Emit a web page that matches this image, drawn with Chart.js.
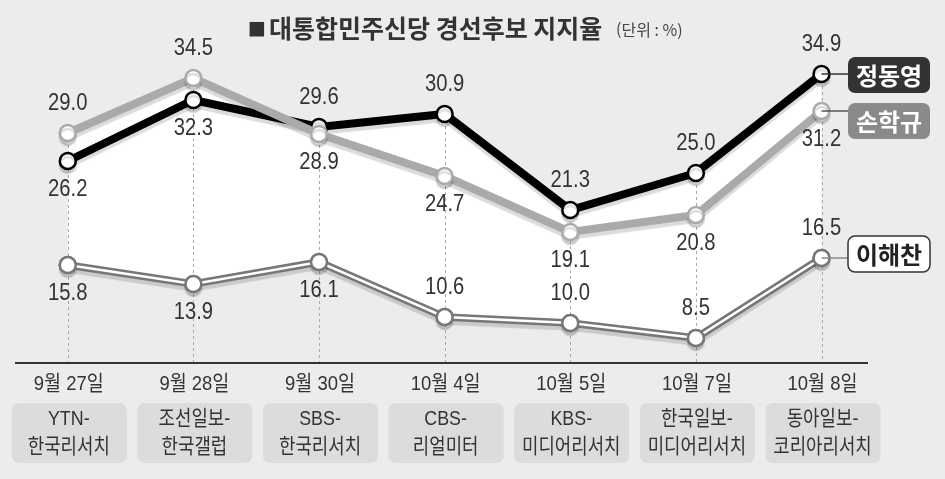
<!DOCTYPE html>
<html lang="ko">
<head>
<meta charset="utf-8">
<script src="https://cdn.jsdelivr.net/npm/chart.js@4.4.1/dist/chart.umd.min.js"></script>
<style>
  html, body { margin: 0; padding: 0; background: #ececee; }
  #chart_div { width: 945px; height: 479px; }
</style>
</head>
<body>
<div id="chart_div"><canvas id="poll_canvas" width="945" height="479"></canvas></div>
<script>
const dates = ["9월 27일", "9월 28일", "9월 30일", "10월 4일", "10월 5일", "10월 7일", "10월 8일"];
const pollsters = [
  ["YTN-", "한국리서치"],
  ["조선일보-", "한국갤럽"],
  ["SBS-", "한국리서치"],
  ["CBS-", "리얼미터"],
  ["KBS-", "미디어리서치"],
  ["한국일보-", "미디어리서치"],
  ["동아일보-", "코리아리서치"]
];
const names = ["정동영", "손학규", "이해찬"];
const jung = [26.2, 32.3, 29.6, 30.9, 21.3, 25.0, 34.9];
const sohn = [29.0, 34.5, 28.9, 24.7, 19.1, 20.8, 31.2];
const lee = [15.8, 13.9, 16.1, 10.6, 10.0, 8.5, 16.5];

// 1 = value label above the point, -1 = below
const jungSide = [-1, -1, 1, 1, 1, 1, 1];
const sohnSide = [1, 1, -1, -1, -1, -1, -1];
const leeSide = [-1, -1, -1, 1, 1, 1, 1];

const KR_FONT = "'Liberation Sans', 'Noto Sans CJK KR', sans-serif";

function toPoints(arr){
  return arr.map((v, i) => ({ x: i, y: v }));
}

function roundBox(ctx, x, y, w, h, r){
  ctx.beginPath();
  ctx.moveTo(x + r, y);
  ctx.arcTo(x + w, y, x + w, y + h, r);
  ctx.arcTo(x + w, y + h, x, y + h, r);
  ctx.arcTo(x, y + h, x, y, r);
  ctx.arcTo(x, y, x + w, y, r);
  ctx.closePath();
}

//the print font is a narrow one, so squeeze the text a bit
function narrowText(ctx, txt, x, y, sx){
  ctx.save();
  ctx.translate(x, y);
  ctx.scale(sx, 1);
  ctx.fillText(txt, 0, 0);
  ctx.restore();
}

const paint_plugin = {
  id: "paint",
  beforeDraw(chart){
    const ctx = chart.ctx;
    ctx.save();
    ctx.fillStyle = "#ececee";
    ctx.fillRect(0, 0, chart.width, chart.height);

    //title
    ctx.fillStyle = "#333";
    ctx.textBaseline = "middle";
    ctx.textAlign = "left";
    ctx.font = "19px 'DejaVu Sans', sans-serif";
    ctx.fillText("■", 248, 29);
    ctx.font = "bold 25px 'Noto Sans CJK KR', sans-serif";
    ctx.fillText("대통합민주신당 경선후보 지지율", 269, 28);
    ctx.font = "16px 'Noto Sans CJK KR', sans-serif";
    ctx.fillStyle = "#444";
    ctx.fillText("(단위 : %)", 616, 30);
    ctx.restore();
  },
  beforeDatasetsDraw(chart){
    const ctx = chart.ctx;
    const xs = chart.scales.x, ys = chart.scales.y;
    const bottom = chart.chartArea.bottom;
    ctx.save();

    //dashed guide from the highest point down to the axis
    ctx.strokeStyle = "#aaa";
    ctx.lineWidth = 1;
    ctx.setLineDash([3, 3]);
    for(let i = 0; i < dates.length; i++){
      const x = Math.round(xs.getPixelForValue(i)) + 0.5;
      const top = ys.getPixelForValue(Math.max(jung[i], sohn[i], lee[i]));
      ctx.beginPath();
      ctx.moveTo(x, top);
      ctx.lineTo(x, bottom);
      ctx.stroke();
    }
    ctx.setLineDash([]);

    //axis line
    ctx.strokeStyle = "#333";
    ctx.lineWidth = 2;
    ctx.beginPath();
    ctx.moveTo(chart.chartArea.left, bottom);
    ctx.lineTo(chart.chartArea.right, bottom);
    ctx.stroke();
    ctx.restore();
  },
  beforeDatasetDraw(chart, args){
    if(args.index === 2) return;
    const ctx = chart.ctx;
    ctx.save();
    ctx.shadowColor = "rgba(0,0,0,0.14)";
    ctx.shadowOffsetX = 0;
    ctx.shadowOffsetY = 4;
    ctx.shadowBlur = 1;
  },
  afterDatasetDraw(chart, args){
    if(args.index === 2) return;
    chart.ctx.restore();
  },
  afterDatasetsDraw(chart){
    const ctx = chart.ctx;
    const xs = chart.scales.x, ys = chart.scales.y;
    const bottom = chart.chartArea.bottom;
    ctx.save();
    ctx.textAlign = "center";
    ctx.textBaseline = "middle";

    //value labels
    ctx.font = "23px 'Liberation Sans', Arial, sans-serif";
    ctx.fillStyle = "#333";
    const series = [[jung, jungSide], [sohn, sohnSide], [lee, leeSide]];
    for(const [vals, side] of series){
      vals.forEach((v, i) => {
        const x = xs.getPixelForValue(i);
        const y = ys.getPixelForValue(v) - side[i] * 29;
        narrowText(ctx, v.toFixed(1), x, y, 0.88);
      });
    }

    //dates and pollster boxes
    for(let i = 0; i < dates.length; i++){
      const x = xs.getPixelForValue(i);
      ctx.fillStyle = "#333";
      ctx.font = "21px " + KR_FONT;
      narrowText(ctx, dates[i], x + 1, bottom + 21, 0.88);

      ctx.fillStyle = "#dcdcde";
      roundBox(ctx, x - 56, bottom + 40, 115, 60, 7);
      ctx.fill();

      ctx.fillStyle = "#333";
      ctx.font = "21px " + KR_FONT;
      narrowText(ctx, pollsters[i][0], x + 1, bottom + 56, 0.85);
      narrowText(ctx, pollsters[i][1], x + 1, bottom + 84, 0.85);
    }

    //name tags at the end of each line
    const last = dates.length - 1;
    const lastX = xs.getPixelForValue(last);
    const ends = [jung[last], sohn[last], lee[last]];
    const tagShift = [1, 10, -4];
    const tagFill = ["#333", "#8a8a8a", "#fff"];
    const tagText = ["#fff", "#fff", "#222"];
    const tagLine = ["#333", "#555", "#888"];
    ends.forEach((v, k) => {
      const y = ys.getPixelForValue(v);
      ctx.strokeStyle = tagLine[k];
      ctx.lineWidth = 1.5;
      ctx.beginPath();
      ctx.moveTo(lastX, y);
      ctx.lineTo(848, y);
      ctx.stroke();

      const cy = y + tagShift[k];
      roundBox(ctx, 848, cy - 18, 82, 36, 7);
      ctx.fillStyle = tagFill[k];
      ctx.fill();
      if(k === 2){
        ctx.strokeStyle = "#333";
        ctx.lineWidth = 1.5;
        ctx.stroke();
      }
      ctx.fillStyle = tagText[k];
      ctx.font = "bold 24px 'Noto Sans CJK KR', sans-serif";
      ctx.fillText(names[k], 889, cy + 1);
    });
    ctx.restore();
  }
};

const ctx_1 = document.getElementById("poll_canvas");

//dataset 0 is painted last, so 손학규 sits on top of 정동영 like in print
const chart_1 = new Chart(ctx_1, {
  type: "line",
  data: {
    datasets: [
      {
        label: names[1],
        data: toPoints(sohn),
        borderColor: "#aaaaaa",
        borderWidth: 8,
        backgroundColor: "#fff",
        fill: 3,
        pointRadius: 8,
        pointBorderWidth: 2.5,
        pointBorderColor: "#aaaaaa",
        pointBackgroundColor: "#fff",
        tension: 0
      },
      {
        label: names[0],
        data: toPoints(jung),
        borderColor: "#000",
        borderWidth: 8,
        backgroundColor: "#fff",
        fill: 3,
        pointRadius: 8,
        pointBorderWidth: 2.5,
        pointBorderColor: "#000",
        pointBackgroundColor: "#fff",
        tension: 0
      },
      {
        //white core of the double line
        label: names[2] + " inner",
        data: toPoints(lee),
        borderColor: "#fff",
        borderWidth: 2.5,
        fill: false,
        pointRadius: 8,
        pointBorderWidth: 2.5,
        pointBorderColor: "#777",
        pointBackgroundColor: "#fff",
        tension: 0
      },
      {
        label: names[2],
        data: toPoints(lee),
        borderColor: "#777",
        borderWidth: 7.5,
        fill: false,
        pointRadius: 8,
        pointBorderWidth: 2.5,
        pointBorderColor: "#777",
        pointBackgroundColor: "#fff",
        tension: 0
      }
    ]
  },
  options: {
    responsive: false,
    animation: false,
    layout: { autoPadding: false, padding: { left: 15, right: 77, top: 0, bottom: 116 } },
    scales: {
      x: { type: "linear", min: -0.42, max: 6.37, display: false },
      y: { type: "linear", min: 6.0, max: 42.3, display: false }
    },
    plugins: {
      legend: { display: false },
      tooltip: { enabled: false },
      filler: { drawTime: "beforeDatasetsDraw" }
    },
    clip: false
  },
  plugins: [paint_plugin]
});
</script>
</body>
</html>
